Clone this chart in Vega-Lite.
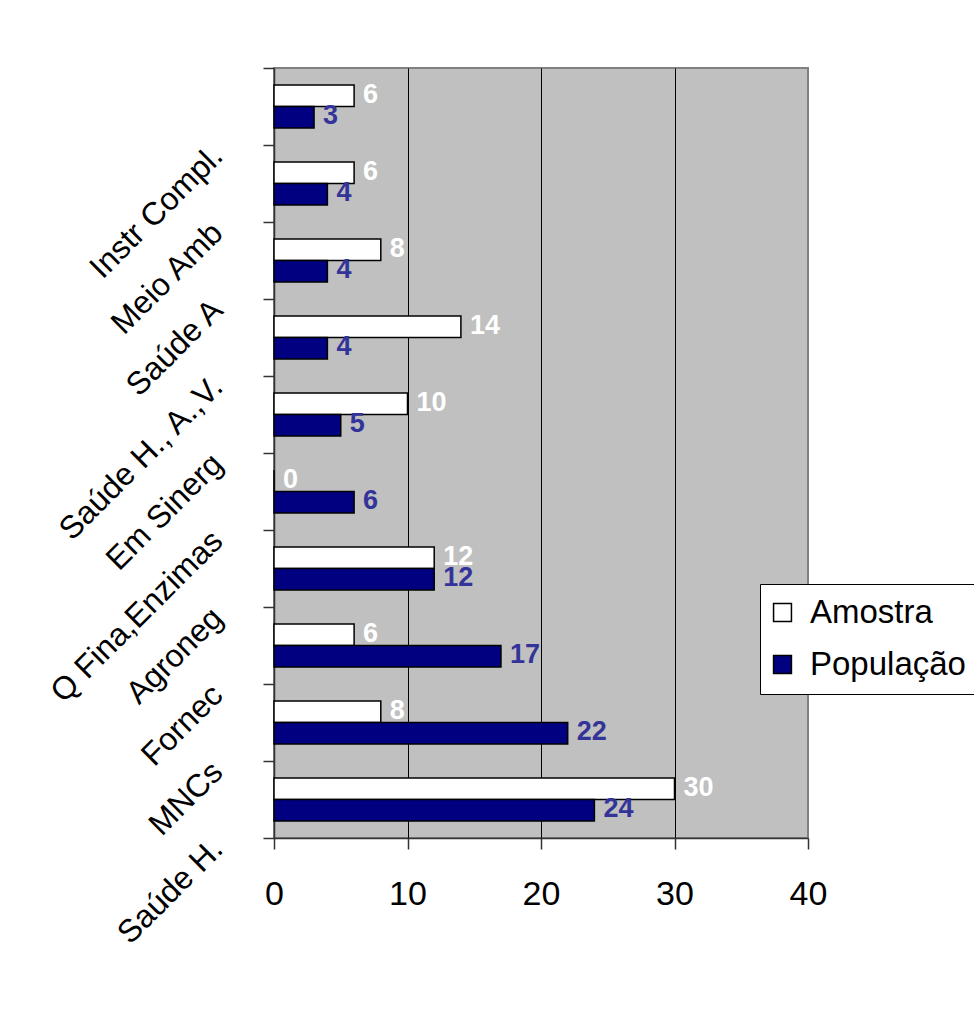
{
  "$schema": "https://vega.github.io/schema/vega-lite/v6.json",
  "width": 534,
  "height": 770,
  "autosize": {"type": "none"},
  "padding": {"left": 274, "top": 68, "right": 166, "bottom": 178},
  "background": "white",
  "data": {
    "values": [
      {"categoria": "Instr Compl.", "serie": "Amostra", "valor": 6},
      {"categoria": "Instr Compl.", "serie": "População", "valor": 3},
      {"categoria": "Meio Amb", "serie": "Amostra", "valor": 6},
      {"categoria": "Meio Amb", "serie": "População", "valor": 4},
      {"categoria": "Saúde A", "serie": "Amostra", "valor": 8},
      {"categoria": "Saúde A", "serie": "População", "valor": 4},
      {"categoria": "Saúde H., A.,V.", "serie": "Amostra", "valor": 14},
      {"categoria": "Saúde H., A.,V.", "serie": "População", "valor": 4},
      {"categoria": "Em Sinerg", "serie": "Amostra", "valor": 10},
      {"categoria": "Em Sinerg", "serie": "População", "valor": 5},
      {"categoria": "Q Fina,Enzimas", "serie": "Amostra", "valor": 0},
      {"categoria": "Q Fina,Enzimas", "serie": "População", "valor": 6},
      {"categoria": "Agroneg", "serie": "Amostra", "valor": 12},
      {"categoria": "Agroneg", "serie": "População", "valor": 12},
      {"categoria": "Fornec", "serie": "Amostra", "valor": 6},
      {"categoria": "Fornec", "serie": "População", "valor": 17},
      {"categoria": "MNCs", "serie": "Amostra", "valor": 8},
      {"categoria": "MNCs", "serie": "População", "valor": 22},
      {"categoria": "Saúde H.", "serie": "Amostra", "valor": 30},
      {"categoria": "Saúde H.", "serie": "População", "valor": 24}
    ]
  },
  "encoding": {
    "y": {
      "field": "categoria",
      "type": "nominal",
      "sort": null,
      "scale": {"paddingInner": 0, "paddingOuter": 0},
      "axis": {
        "title": null,
        "labelAngle": -45,
        "labelAlign": "right",
        "labelBaseline": "middle",
        "labelOffset": 44,
        "labelPadding": 46,
        "labelFontSize": 32,
        "labelColor": "black",
        "labelLimit": 400,
        "tickSize": 11,
        "tickBand": "extent",
        "tickColor": "#333333",
        "tickWidth": 1.5,
        "domainColor": "#333333",
        "domainWidth": 1.5,
        "grid": false
      }
    },
    "yOffset": {
      "field": "serie",
      "type": "nominal",
      "sort": ["Amostra", "População"],
      "scale": {"paddingInner": 0, "paddingOuter": 0.79}
    },
    "x": {
      "field": "valor",
      "type": "quantitative",
      "scale": {"domain": [0, 40], "nice": false},
      "axis": {
        "title": null,
        "values": [0, 10, 20, 30, 40],
        "labelFontSize": 34,
        "labelColor": "black",
        "labelPadding": 28,
        "labelFlush": false,
        "tickSize": 11,
        "tickColor": "#333333",
        "tickWidth": 1.5,
        "domainColor": "#333333",
        "domainWidth": 1.5,
        "grid": true,
        "gridWidth": 1,
        "gridColor": {"condition": {"test": "datum.value === 40", "value": "#808080"}, "value": "black"}
      }
    }
  },
  "layer": [
    {
      "mark": {"type": "bar", "stroke": "black", "strokeWidth": 1.5},
      "encoding": {
        "color": {
          "field": "serie",
          "type": "nominal",
          "sort": ["Amostra", "População"],
          "scale": {"domain": ["Amostra", "População"], "range": ["white", "#000080"]},
          "legend": {
            "title": null,
            "orient": "none",
            "legendX": 486,
            "legendY": 516,
            "fillColor": "white",
            "strokeColor": "black",
            "padding": 12,
            "rowPadding": 18,
            "labelFontSize": 33,
            "labelColor": "black",
            "labelOffset": 11,
            "symbolOffset": -6,
            "symbolType": "square",
            "symbolSize": 320,
            "symbolStrokeColor": "black",
            "symbolStrokeWidth": 1.5,
            "symbolOpacity": 1
          }
        }
      }
    },
    {
      "mark": {
        "type": "text",
        "align": "left",
        "baseline": "middle",
        "dx": 9,
        "dy": -1,
        "fontSize": 27,
        "fontWeight": "bold"
      },
      "encoding": {
        "text": {"field": "valor", "type": "quantitative"},
        "color": {
          "condition": {"test": "datum.serie === 'Amostra'", "value": "white"},
          "value": "#333399"
        }
      }
    }
  ],
  "config": {
    "font": "Liberation Sans",
    "view": {"fill": "#C0C0C0", "stroke": "#808080", "strokeWidth": 2}
  }
}
